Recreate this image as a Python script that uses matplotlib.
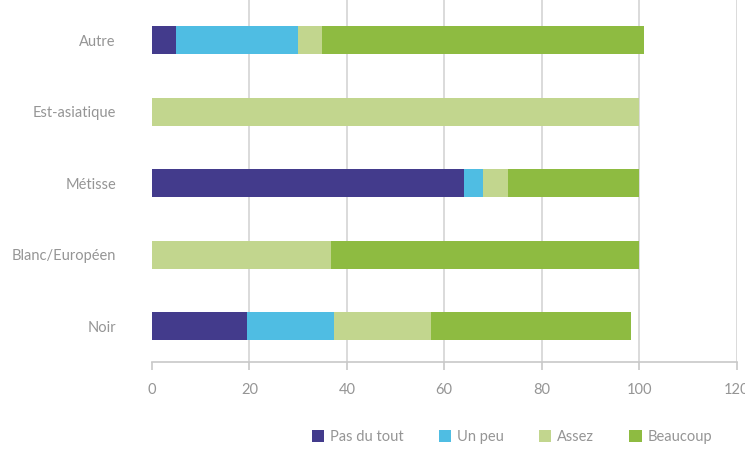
import matplotlib
matplotlib.use("Agg")
import matplotlib.pyplot as plt
import numpy as np

categories = ["Noir", "Blanc/Européen", "Métisse", "Est-asiatique", "Autre"]
series_names = ["Pas du tout", "Un peu", "Assez", "Beaucoup"]
pas_du_tout = [19.6, 0, 64, 0, 5]
un_peu = [17.7, 0, 4, 0, 25]
assez = [19.9, 36.7, 5, 100, 5]
beaucoup = [41.1, 63.3, 27, 0, 66]
colors = ["#433b8c", "#4fbde3", "#c2d68e", "#8ebb41"]
xticks = [0, 20, 40, 60, 80, 100, 120]

plt.rcParams['font.family'] = ['Lato', 'DejaVu Sans']

fig = plt.figure(figsize=(7.45, 4.53), dpi=100)
ax = fig.add_axes([152/745, 91/453, (736.5-152)/745, 362/453])

y = np.arange(len(categories))
left = np.zeros(len(categories))
for name, vals, c in zip(series_names, [pas_du_tout, un_peu, assez, beaucoup], colors):
    vals = np.array(vals, dtype=float)
    ax.barh(y, vals, left=left, height=0.39, color=c, label=name, zorder=3)
    left += vals

ax.set_xlim(0, 120)
ax.set_ylim(-0.5, 4.56)
ax.set_xticks(xticks)
ax.set_xticklabels([str(t) for t in xticks])
ax.set_yticks(y)
ax.set_yticklabels(categories)
for s in ["top", "right", "left"]:
    ax.spines[s].set_visible(False)
ax.spines["bottom"].set_color("#c8c8c8")
ax.spines["bottom"].set_linewidth(1.2)
ax.tick_params(axis='x', colors="#c8c8c8", length=6, width=1.2, direction='out',
               labelcolor="#959595", labelsize=10.5, pad=9)
ax.tick_params(axis='y', length=0, labelcolor="#959595", labelsize=10.5, pad=26)
ax.grid(axis='x', color="#d4d4d4", linewidth=1.2, zorder=0)
ax.set_axisbelow(True)
ax.xaxis.get_major_ticks()[0].gridline.set_visible(False)

handles, labels = ax.get_legend_handles_labels()
leg = fig.legend(handles, labels, loc='center', bbox_to_anchor=(512/745, 1-437/453),
                 ncol=4, frameon=False, fontsize=10.5, handlelength=0.85, handleheight=0.85,
                 handletextpad=0.4, columnspacing=2.4)
for t in leg.get_texts():
    t.set_color("#959595")

fig.savefig("out.png", dpi=100)
